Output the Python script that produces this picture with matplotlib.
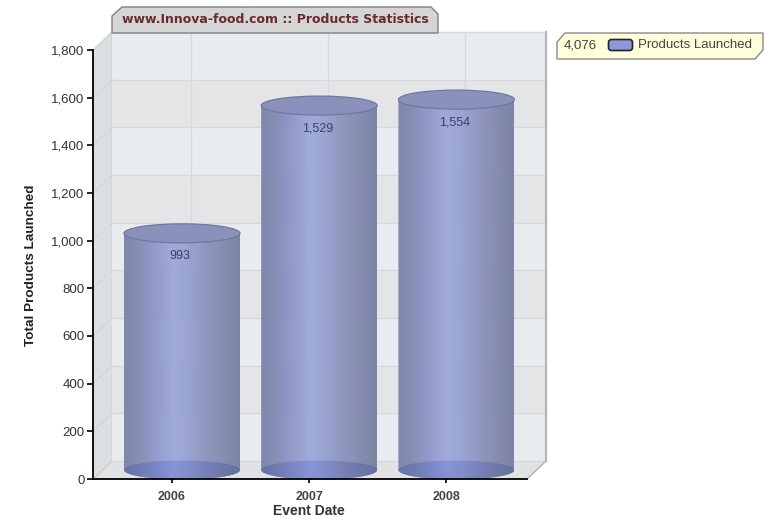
import numpy as np
import matplotlib
matplotlib.use("Agg")
import matplotlib.pyplot as plt
from matplotlib.patches import Polygon, Ellipse, FancyBboxPatch
from matplotlib.path import Path
from matplotlib.patches import PathPatch

# data
years = ["2006", "2007", "2008"]
products = [993, 1529, 1554]
total_label = "4,076"
y_ticks = list(range(0, 2000, 200))
series_name = "Products Launched"

plt.rcParams['font.family'] = ['Liberation Sans', 'DejaVu Sans']

W, H = 765, 519
fig = plt.figure(figsize=(W / 100, H / 100), dpi=100)

# front plane of the 3D box
left, right, bottom, top = 93, 527, 479, 50
ax = fig.add_axes([left / W, (H - bottom) / H, (right - left) / W, (bottom - top) / H])
ux = 137.2                 # pixels per category
uy = (bottom - top) / 1800 # pixels per unit
x0 = (left - 172) / ux
x1 = (right - 172) / ux
ax.set_xlim(x0, x1)
ax.set_ylim(0, 1800)
ax.patch.set_visible(False)

# depth of the box in data units
dx = 19 / ux
dy = 18 / uy

# left wall, floor
ax.add_patch(Polygon([(x0, 0), (x0 + dx, dy), (x0 + dx, 1800 + dy), (x0, 1800)],
                     fc='#dcdfe2', ec='#d0d3d6', lw=0.8, clip_on=False, zorder=1))
ax.add_patch(Polygon([(x0, 0), (x1, 0), (x1 + dx, dy), (x0 + dx, dy)],
                     fc='#e0e2e4', ec='#c4c6c8', lw=0.8, clip_on=False, zorder=1))
# back wall with alternating bands
for i, t in enumerate(y_ticks[:-1]):
    col = '#e9ecee' if i % 2 == 0 else '#e3e5e7'
    ax.add_patch(Polygon([(x0 + dx, t + dy), (x1 + dx, t + dy),
                          (x1 + dx, t + 200 + dy), (x0 + dx, t + 200 + dy)],
                         fc=col, ec='none', clip_on=False, zorder=1))
for t in y_ticks:
    ax.plot([x0 + dx, x1 + dx], [t + dy, t + dy], color='#d6d8da', lw=1, clip_on=False, zorder=1.5)
    ax.plot([x0, x0 + dx], [t, t + dy], color='#d2d5d8', lw=0.7, clip_on=False, zorder=1.5)
for i in range(len(years)):
    ax.plot([i + dx, i + dx], [dy, 1800 + dy], color='#d6d8da', lw=1, clip_on=False, zorder=1.5)
# right edge of the box
ax.plot([x1 + dx, x1 + dx], [dy, 1800 + dy], color='#b4b6b8', lw=1.6, clip_on=False, zorder=1.5)
ax.plot([x1, x1 + dx], [0, dy], color='#b4b6b8', lw=1, clip_on=False, zorder=1.5)

# cylinders
bar_w = 116 / ux
ell_h = 19 / uy
shift_x = 10 / ux
shift_y = 9 / uy
body = np.array([0.00, 0.12, 0.30, 0.42, 0.55, 0.75, 0.90, 1.00])
stops_r = np.array([0x78, 0x80, 0x90, 0x9c, 0x96, 0x86, 0x7c, 0x74])
stops_g = np.array([0x80, 0x88, 0x99, 0xa6, 0xa0, 0x8e, 0x84, 0x7c])
stops_b = np.array([0xa8, 0xb2, 0xcc, 0xdc, 0xd0, 0xb6, 0xa8, 0xa0])
u = np.linspace(0, 1, 200)
grad = np.dstack([np.interp(u, body, stops_r), np.interp(u, body, stops_g),
                  np.interp(u, body, stops_b)]).astype(np.uint8).reshape(1, 200, 3)
grad_base = np.clip(grad.astype(int) * np.array([0.92, 0.94, 0.98]), 0, 255).astype(np.uint8)

for i, v in enumerate(products):
    cx = i + shift_x
    base = shift_y
    ttop = v + shift_y
    hw = bar_w / 2
    hh = ell_h / 2
    # body outline: side walls + lower half of base ellipse
    th = np.linspace(np.pi, 2 * np.pi, 60)
    verts = [(cx - hw, ttop)] + [(cx + hw * np.cos(a), base + hh * np.sin(a)) for a in th] + [(cx + hw, ttop), (cx - hw, ttop)]
    clip = Polygon(verts, transform=ax.transData, fc='none', ec='none')
    ax.add_patch(clip)
    im = ax.imshow(grad, extent=[cx - hw, cx + hw, base - hh, ttop], aspect='auto',
                   alpha=0.93, zorder=3, interpolation='bilinear')
    im.set_clip_path(clip)
    # floor ellipse seen through the body
    e = Ellipse((cx, base), bar_w, ell_h, transform=ax.transData, fc='none', ec='none')
    ax.add_patch(e)
    im2 = ax.imshow(grad_base * np.array([0.90, 0.92, 1.0]) / 255, extent=[cx - hw, cx + hw, base - hh, base + hh],
                    aspect='auto', alpha=0.8, zorder=3.2, interpolation='bilinear')
    im2.set_clip_path(e)
    # top ellipse
    ax.add_patch(Ellipse((cx, ttop), bar_w, ell_h, fc='#8a92bb', ec='#6f77a3', lw=0.9, zorder=4))
    ax.annotate(f"{v:,}", (i + shift_x - 2 / ux, ttop), xytext=(0, -23 * 0.72), textcoords='offset points',
                ha='center', va='center', fontsize=9, color='#3c4262', zorder=5)

ax.set_xlim(x0, x1)
ax.set_ylim(0, 1800)

# axes
for s in ['top', 'right']:
    ax.spines[s].set_visible(False)
for s in ['left', 'bottom']:
    ax.spines[s].set_color('black')
    ax.spines[s].set_linewidth(1.3)
    ax.spines[s].set_zorder(6)
ax.set_yticks(y_ticks)
ax.set_yticklabels([f"{t:,}" for t in y_ticks], fontsize=9.5, color='#333333')
ax.set_xticks(range(len(years)))
ax.set_xticklabels(years, fontsize=9, fontweight='bold', color='#444444')
ax.tick_params(axis='y', length=4, width=1.2, pad=2)
ax.tick_params(axis='x', length=3, width=1.2, pad=6)
fig.text(31 / W, 1 - 265 / H, "Total Products Launched", rotation=90, ha='center', va='center',
         fontsize=9.7, fontweight='bold', color='#222222')
fig.text(309 / W, 1 - 511 / H, "Event Date", ha='center', va='center',
         fontsize=10, fontweight='bold', color='#333333')

# overlay in pixel coords for title tab and legend
ov = fig.add_axes([0, 0, 1, 1], zorder=10)
ov.set_xlim(0, W)
ov.set_ylim(H, 0)
ov.axis('off')
ov.add_patch(Polygon([(112, 33), (112, 16), (122, 7), (431, 7), (438, 14), (438, 33)],
                     fc='#d5d5d5', ec='#808080', lw=1))
ov.text(275.5, 19.5, "www.Innova-food.com :: Products Statistics", ha='center', va='center',
        fontsize=9, fontweight='bold', color='#6a2a30', family=['DejaVu Sans'])
ov.add_patch(Polygon([(557, 42), (565, 33), (763, 33), (763, 50), (755, 59), (557, 59)],
                     fc='#ffffdc', ec='#8a8a8a', lw=1))
ov.text(564, 45, total_label, ha='left', va='center', fontsize=9.5, color='#444444')
ov.add_patch(FancyBboxPatch((610, 41), 21, 8, boxstyle="round,pad=1.5,rounding_size=3",
                            fc='#8c98d8', ec='#222233', lw=1.2))
ov.text(638, 45, series_name, ha='left', va='center', fontsize=9.5, color='#444444')

fig.savefig("out.png", dpi=100)
